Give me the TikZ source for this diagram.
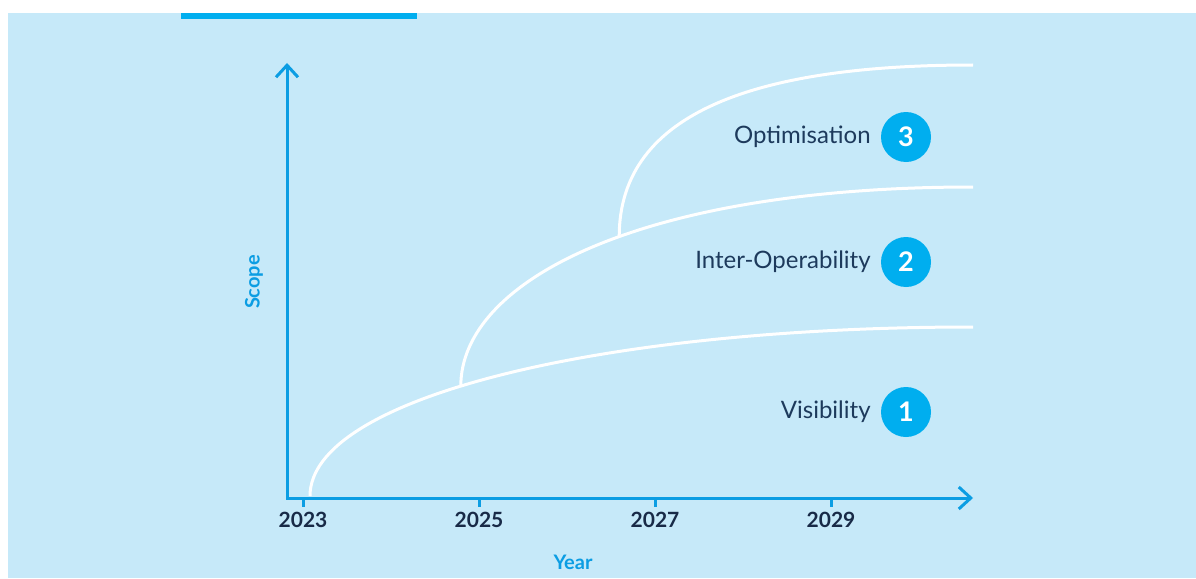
\documentclass[tikz,border=0pt]{standalone}
\usepackage{fontspec}
\setmainfont{Lato}
\usepackage{tikz}
\usetikzlibrary{positioning,arrows.meta}

\definecolor{bgblue}{HTML}{C6E9F9}
\definecolor{axisblue}{HTML}{0B9DE3}
\definecolor{dotblue}{HTML}{00AEEF}
\definecolor{labelnavy}{HTML}{1D3A5C}
\definecolor{yearnavy}{HTML}{182A47}

\tikzset{
    axis/.style={draw=axisblue, line width=3pt,
        arrows={Straight Barb[length=12pt,width=22pt,line width=3pt]-Straight Barb[length=12pt,width=22pt,line width=3pt]}},
    curve/.style={draw=white, line width=3pt},
    num/.style={circle, fill=dotblue, text=white, minimum size=50pt,
        inner sep=0pt, font=\fontsize{27}{30}\selectfont\bfseries},
    phase/.style={text=labelnavy, inner sep=0pt,
        font=\fontsize{24}{28}\selectfont},
    year/.style={text=yearnavy, inner sep=0pt,
        font=\fontsize{21}{24}\selectfont\bfseries},
    axislabel/.style={text=axisblue, inner sep=0pt,
        font=\fontsize{20}{24}\selectfont\bfseries},
}

\begin{document}
\begin{tikzpicture}[x=1pt, y=-1pt]
        \useasboundingbox (0,0) rectangle (1196,578);
        \fill[bgblue] (8,13) rectangle (1196,578);
        \fill[dotblue] (181,13) rectangle (417,19);

        % curves
        \draw[curve] (310,496) .. controls +(0,-98) and +(-373,0) .. (973,327)
            coordinate[pos=0.44] (b2) coordinate (e1);
        \draw[curve] (b2) .. controls +(0,-105) and +(-333,0) .. (973,187)
            coordinate[pos=0.55] (b3) coordinate (e2);
        \draw[curve] (b3) .. controls +(0,-126) and +(-213,0) .. (973,65)
            coordinate (e3);

        % axes
        \coordinate (ytip) at (287,63);
        \coordinate (xtip) at (973,498);
        \draw[axis] (ytip) |- (xtip);

        % ticks
        \foreach \yr [count=\i from 0] in {2023,2025,2027,2029} {
            \coordinate (t\yr) at (303+176*\i,498);
            \draw[axisblue, line width=3pt] (t\yr) -- ++(0,9);
            \node[year] (y\yr) at (303+176*\i,520) {\yr};
        }

        \node[axislabel] (year) at (573,562) {Year};
        \node[axislabel, rotate=90] (scope) at (254,282) {Scope};

        % 3
        \node[num] (n3) at (906,137) {3};
        \node[phase, left=10pt of n3] (opt) {Optimisation};

        % 2
        \node[num] (n2) at (906,262) {2};
        \node[phase, left=10pt of n2] (inter) {Inter-Operability};

        % 1
        \node[num] (n1) at (906,412) {1};
        \node[phase, left=10pt of n1] (vis) {Visibility};
        \end{tikzpicture}
\end{document}
